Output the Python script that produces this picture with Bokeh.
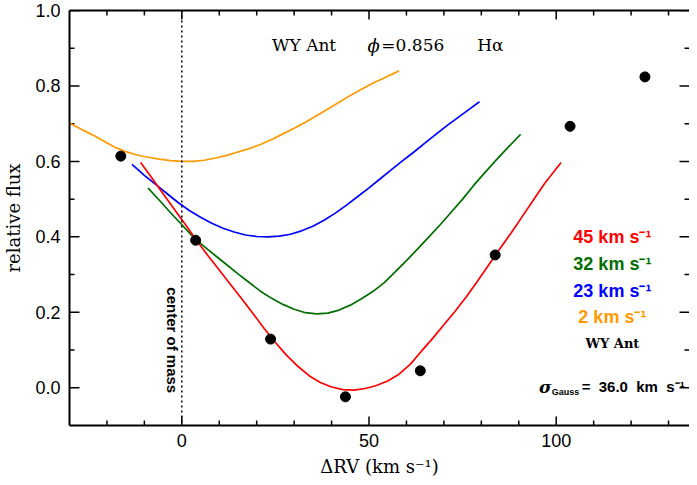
import math
from bokeh.plotting import figure
from bokeh.models import LinearAxis, FixedTicker, PrintfTickFormatter, Span, Label, Range1d
from bokeh.embed import file_html
from bokeh.resources import INLINE

# observed points
obs_rv = [-16.3, 3.7, 23.7, 43.7, 63.7, 83.7, 103.7, 123.7]
obs_flux = [0.614, 0.391, 0.129, -0.024, 0.045, 0.352, 0.693, 0.824]

# model profiles
rv_2 = [-30, -27, -24, -21, -18, -15, -12, -9, -6, -3, 0, 3, 6, 9, 12, 15, 18, 21, 24, 27,
        30, 33, 36, 39, 42, 45, 48, 51, 54, 58]
flux_2 = [0.702, 0.686, 0.671, 0.655, 0.638, 0.626, 0.617, 0.611, 0.606, 0.602, 0.600, 0.600,
          0.603, 0.609, 0.616, 0.625, 0.634, 0.645, 0.658, 0.673, 0.688, 0.704, 0.721, 0.739,
          0.757, 0.775, 0.791, 0.807, 0.821, 0.840]

rv_23 = [-13.3, -10, -7, -4, -1, 2, 5, 8, 11, 14, 17, 20, 23, 26, 29, 32, 35, 38, 41, 44, 47,
         50, 53, 56, 59, 62, 65, 68, 71, 74, 77, 79.5]
flux_23 = [0.592, 0.563, 0.539, 0.515, 0.491, 0.470, 0.452, 0.436, 0.423, 0.413, 0.405, 0.401,
           0.400, 0.402, 0.407, 0.416, 0.428, 0.444, 0.463, 0.484, 0.507, 0.530, 0.554, 0.578,
           0.602, 0.625, 0.649, 0.673, 0.696, 0.718, 0.740, 0.758]

rv_32 = [-9, -6, -3, 0, 3, 6, 9, 12, 15, 18, 21, 24, 27, 30, 33, 36, 39, 42, 45, 48, 51, 54,
         57, 60, 63, 66, 69, 72, 75, 78, 81, 84, 87, 90.5]
flux_32 = [0.529, 0.497, 0.464, 0.432, 0.400, 0.374, 0.350, 0.326, 0.302, 0.279, 0.256, 0.237,
           0.221, 0.208, 0.199, 0.196, 0.198, 0.206, 0.219, 0.236, 0.255, 0.278, 0.307, 0.337,
           0.368, 0.400, 0.432, 0.466, 0.500, 0.537, 0.571, 0.604, 0.636, 0.672]

rv_45 = [-11, -8, -5, -2, 1, 4, 7, 10, 13, 16, 19, 22, 25, 28, 31, 34, 37, 40, 43, 46, 49, 52,
         55, 58, 61, 64, 67, 70, 73, 76, 79, 82, 85, 88, 91, 94, 97, 101.3]
flux_45 = [0.597, 0.556, 0.514, 0.473, 0.432, 0.390, 0.350, 0.312, 0.274, 0.236, 0.197, 0.157,
           0.120, 0.086, 0.057, 0.032, 0.014, 0.002, -0.005, -0.006, -0.002, 0.006, 0.018, 0.036,
           0.062, 0.097, 0.131, 0.167, 0.203, 0.241, 0.283, 0.326, 0.369, 0.411, 0.455, 0.499,
           0.543, 0.597]

NB = "\u00a0"
legend_labels = ["45" + NB + "km" + NB + "s\u207b\u00b9", "32" + NB + "km" + NB + "s\u207b\u00b9",
                 "23" + NB + "km" + NB + "s\u207b\u00b9", "2" + NB + "km" + NB + "s\u207b\u00b9"]
legend_colors = ["#ff0000", "#006e00", "#0000ff", "#ff9900"]
legend_y = [0.399, 0.327, 0.257, 0.187]

# axis ticks
x_major = [0, 50, 100]
x_minor = [-20, -10, 10, 20, 30, 40, 60, 70, 80, 90, 110, 120, 130]
y_major = [0.0, 0.2, 0.4, 0.6, 0.8, 1.0]
y_minor = [0.1, 0.3, 0.5, 0.7, 0.9]

X0, X1, Y0, Y1 = -30, 135.6, -0.1, 1.0
W, H = 689, 479
MAJ, MIN = 9, 5                             # tick lengths in px

p = figure(width=W, height=H, output_backend="svg", toolbar_location=None,
           x_range=Range1d(X0, X1), y_range=Range1d(Y0, Y1),
           min_border_left=65, min_border_right=0, min_border_top=10, min_border_bottom=50)
p.outline_line_color = None
p.xgrid.grid_line_color = None
p.ygrid.grid_line_color = None
p.background_fill_color = None
p.border_fill_color = None

def style_axis(ax):
    ax.axis_line_width = 2
    ax.axis_line_color = "black"
    ax.major_tick_line_color = None
    ax.minor_tick_line_color = None
    ax.major_tick_in = 0
    ax.major_tick_out = 0
    ax.minor_tick_in = 0
    ax.minor_tick_out = 0
    ax.major_label_text_font = "Liberation Sans"
    ax.major_label_text_font_size = "18px"
    ax.major_label_text_color = "black"
    ax.axis_label_text_font = "DejaVu Serif"
    ax.axis_label_text_font_size = "18px"
    ax.axis_label_text_font_style = "normal"
    ax.axis_label_text_color = "black"

p.xaxis.ticker = FixedTicker(ticks=x_major)
p.yaxis.ticker = FixedTicker(ticks=y_major)
p.yaxis.formatter = PrintfTickFormatter(format="%.1f")
style_axis(p.xaxis[0])
style_axis(p.yaxis[0])
p.xaxis.axis_label = "\u0394RV" + NB + "(km" + NB + "s\u207b\u00b9)"
p.yaxis.axis_label = "relative flux"
p.xaxis.major_label_standoff = 8
p.xaxis.axis_label_standoff = 6
p.yaxis.major_label_standoff = 9
p.yaxis.axis_label_standoff = 8

top = LinearAxis(ticker=FixedTicker(ticks=[]))
style_axis(top)
p.add_layout(top, "above")

# inward tick marks: dash markers centred on the frame edges (outer half clipped by the frame)
tw = 1.5
def edge_ticks(xs, ys, length, ang):
    p.scatter(x=xs, y=ys, marker="dash", size=2 * length, angle=ang,
              line_color="black", line_width=tw, fill_color=None)

edge_ticks(x_major, [Y0] * len(x_major), MAJ, math.pi / 2)
edge_ticks(x_major, [Y1] * len(x_major), MAJ, math.pi / 2)
edge_ticks(x_minor, [Y0] * len(x_minor), MIN, math.pi / 2)
edge_ticks(x_minor, [Y1] * len(x_minor), MIN, math.pi / 2)
edge_ticks([X0] * len(y_major), y_major, MAJ + 1, 0)
edge_ticks([X1] * len(y_major), y_major, MAJ + 1, 0)
edge_ticks([X0] * len(y_minor), y_minor, MIN, 0)
edge_ticks([X1] * len(y_minor), y_minor, MIN, 0)

p.add_layout(Span(location=0, dimension="height", line_color="black", line_dash="2 3", line_width=1.5))

lw = 1.7
p.line(rv_2, flux_2, line_color=legend_colors[3], line_width=lw)
p.line(rv_23, flux_23, line_color=legend_colors[2], line_width=lw)
p.line(rv_32, flux_32, line_color=legend_colors[1], line_width=lw)
p.line(rv_45, flux_45, line_color=legend_colors[0], line_width=lw)
p.scatter(obs_rv, obs_flux, size=10, color="black")

# title pieces
p.add_layout(Label(x=24.1, y=0.908, text="WY" + NB + "Ant", text_font="DejaVu Serif", text_font_size="17px",
                   text_align="left", text_baseline="middle", text_color="black"))
p.add_layout(Label(x=49.6, y=0.908, text="\u03d5", text_font="DejaVu Serif", text_font_size="18px",
                   text_font_style="italic", text_align="left", text_baseline="middle", text_color="black"))
p.add_layout(Label(x=53.3, y=0.908, text="=0.856", text_font="DejaVu Serif", text_font_size="17px",
                   text_align="left", text_baseline="middle", text_color="black"))
p.add_layout(Label(x=78.9, y=0.908, text="H\u03b1", text_font="DejaVu Serif", text_font_size="17px",
                   text_align="left", text_baseline="middle", text_color="black"))

for txt, col, yy in zip(legend_labels, legend_colors, legend_y):
    p.add_layout(Label(x=115, y=yy, text=txt, text_font="Liberation Sans", text_font_size="18px",
                       text_font_style="bold", text_align="center", text_baseline="middle", text_color=col))
p.add_layout(Label(x=115, y=0.118, text="WY" + NB + "Ant", text_font="DejaVu Serif", text_font_size="13px",
                   text_font_style="bold", text_align="center", text_baseline="middle", text_color="black"))

p.add_layout(Label(x=95.4, y=0.003, text="\u03c3", text_font="DejaVu Serif", text_font_size="17px",
                   text_font_style="bold italic", text_align="left", text_baseline="middle", text_color="black"))
p.add_layout(Label(x=98.8, y=-0.010, text="Gauss", text_font="Liberation Sans", text_font_size="9px",
                   text_font_style="bold", text_align="left", text_baseline="middle", text_color="black"))
p.add_layout(Label(x=134.3, y=0.003, text="=" + NB + NB + "36.0" + NB + NB + "km" + NB + NB + "s\u207b\u00b9",
                   text_font="Liberation Sans", text_font_size="15px",
                   text_font_style="bold", text_align="right", text_baseline="middle", text_color="black"))

p.add_layout(Label(x=-2.6, y=0.126, text="center" + NB + "of" + NB + "mass", text_font="Liberation Sans",
                   text_font_size="15px", text_font_style="bold", text_align="center", text_baseline="middle",
                   angle=-math.pi / 2, text_color="black"))

open("out.html", "w").write(file_html(p, INLINE))
